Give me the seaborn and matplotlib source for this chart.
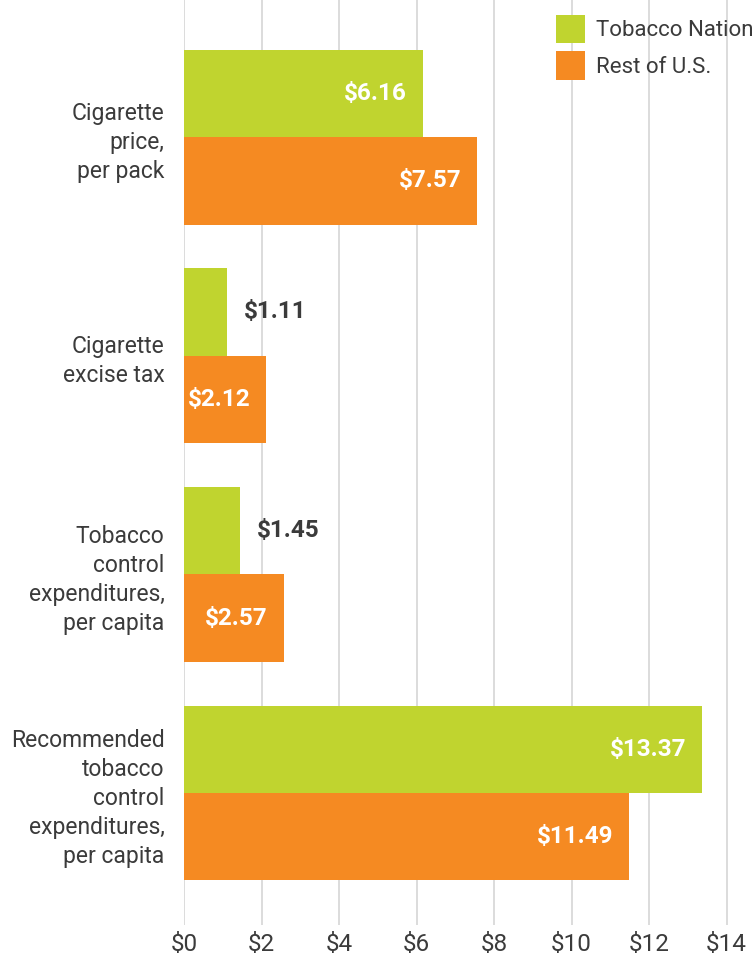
import matplotlib
matplotlib.use("Agg")
import matplotlib.pyplot as plt
import seaborn as sns
import pandas as pd
from matplotlib.patches import Patch

categories = ["Cigarette\nprice,\nper pack",
              "Cigarette\nexcise tax",
              "Tobacco\ncontrol\nexpenditures,\nper capita",
              "Recommended\ntobacco\ncontrol\nexpenditures,\nper capita"]
series_names = ["Tobacco Nation", "Rest of U.S."]
tobacco_nation = [6.16, 1.11, 1.45, 13.37]
rest_of_us = [7.57, 2.12, 2.57, 11.49]
x_ticks = [0, 2, 4, 6, 8, 10, 12, 14]
x_tick_labels = ["$0", "$2", "$4", "$6", "$8", "$10", "$12", "$14"]

colors = ["#C0D42F", "#F58A22"]
text_color = "#3b3b3b"

df = pd.DataFrame({
    "category": categories * 2,
    "value": tobacco_nation + rest_of_us,
    "series": [series_names[0]] * 4 + [series_names[1]] * 4,
})

sns.set_theme(style="white")
plt.rcParams['font.family'] = ['Roboto', 'DejaVu Sans']

fig = plt.figure(figsize=(7.56, 9.6), dpi=100)
ax = fig.add_axes([184 / 756, 1 - 925 / 960, 1 - 184 / 756, 925 / 960])

sns.barplot(data=df, y="category", x="value", hue="series", orient="h",
            palette=colors, saturation=1, width=0.8, ax=ax, legend=False,
            errorbar=None, linewidth=0, edgecolor="none")

ax.set_xlim(0, (756 - 184) / 38.75)
ax.set_ylim(3.604, -0.627)
ax.set_xticks(x_ticks)
ax.set_xticklabels(x_tick_labels, fontsize=17.5, color=text_color)
ax.set_xlabel("")
ax.set_ylabel("")
for lab in ax.get_yticklabels():
    lab.set_fontsize(16.5)
    lab.set_color(text_color)
    lab.set_linespacing(1.33)
    lab.set_horizontalalignment("right")
ax.tick_params(axis="x", length=0, pad=6)
ax.tick_params(axis="y", length=0, pad=14)
for s in ax.spines.values():
    s.set_visible(False)
ax.grid(axis="x", color="#d9d9d9", linewidth=1.3)
ax.grid(axis="y", visible=False)
ax.set_axisbelow(True)

for cont in ax.containers:
    for p in cont:
        w = p.get_width()
        yc = p.get_y() + p.get_height() / 2
        label = f"${w:.2f}"
        if w < 2:
            ax.annotate(label, xy=(w, yc), xytext=(12, 0), textcoords="offset points",
                        ha="left", va="center", fontsize=17.5, fontweight="bold",
                        color=text_color)
        else:
            ax.annotate(label, xy=(w, yc), xytext=(-11.5, 0), textcoords="offset points",
                        ha="right", va="center", fontsize=17.5, fontweight="bold",
                        color="white")

handles = [Patch(facecolor=c, edgecolor="none") for c in colors]
fig.legend(handles, series_names, loc="upper left",
           bbox_to_anchor=(547 / 756, 1 - 6 / 960), frameon=False,
           fontsize=16, handlelength=1.3, handleheight=1.6, handletextpad=0.5,
           labelspacing=0.35, borderaxespad=0, labelcolor=text_color)

fig.savefig("out.png", dpi=100)
